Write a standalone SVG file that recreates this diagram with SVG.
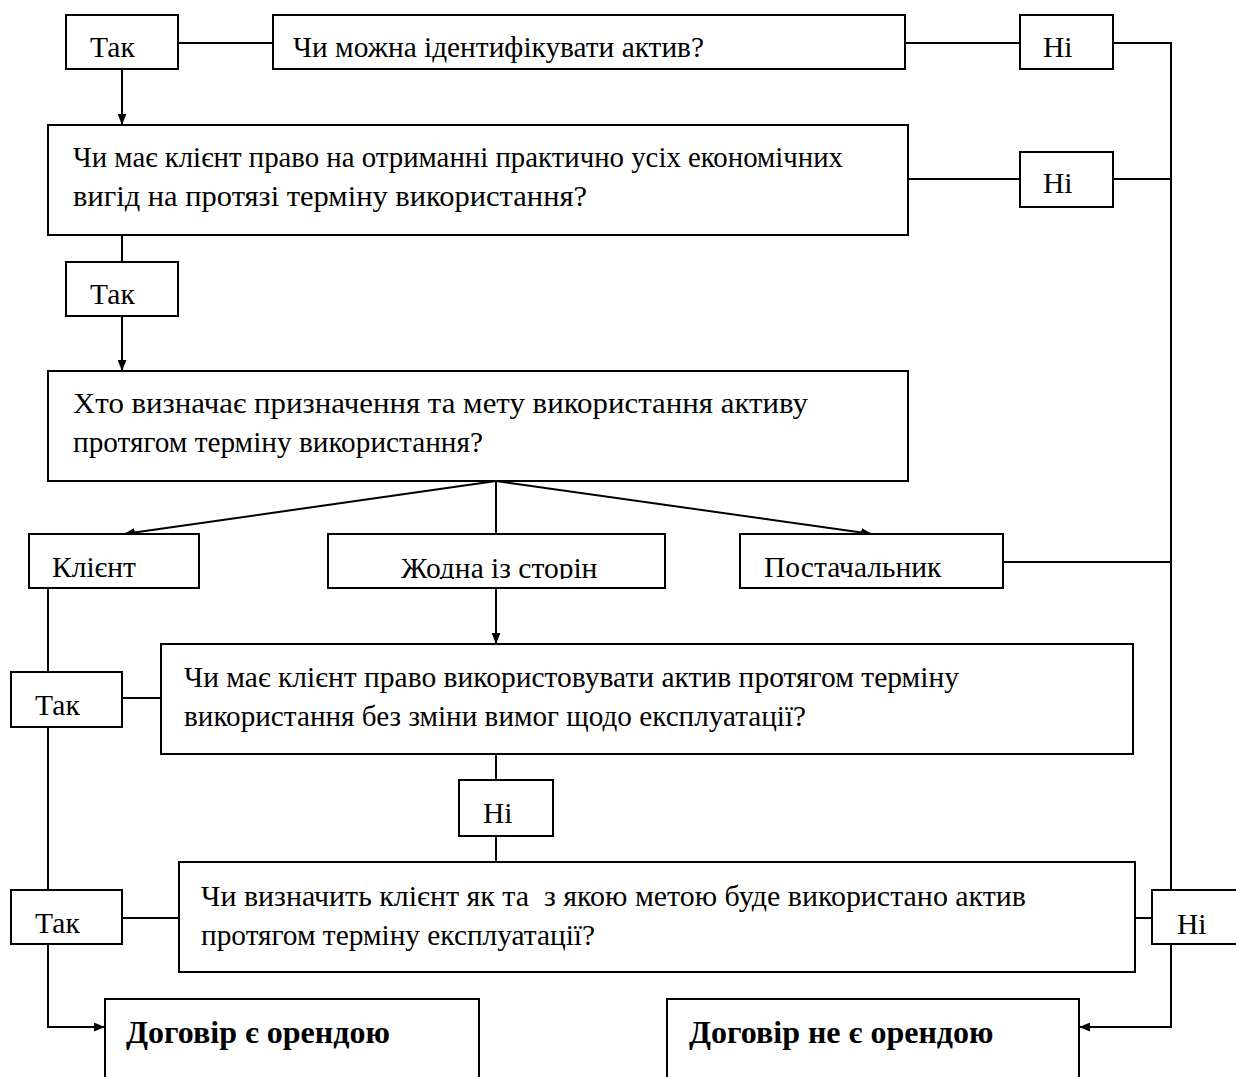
<svg xmlns="http://www.w3.org/2000/svg" width="1236" height="1077" viewBox="0 0 1236 1077">
<style>
  .box { fill: #ffffff; stroke: #000000; stroke-width: 2; }
  .ln { fill: none; stroke: #000000; stroke-width: 2; }
  .arr { fill: none; stroke: #000000; stroke-width: 2; marker-end: url(#ah); }
  .t { font-family: "Liberation Serif", "Times New Roman", serif; font-size: 29.5px; fill: #000000; }
  .q { font-family: "Liberation Serif", "Times New Roman", serif; font-size: 29px; fill: #000000; }
  .b { font-family: "Liberation Serif", "Times New Roman", serif; font-size: 32px; font-weight: bold; fill: #000000; }
</style>
<defs>
  <marker id="ah" viewBox="0 0 10 8" refX="10" refY="4" markerWidth="11" markerHeight="9" markerUnits="userSpaceOnUse" orient="auto">
    <path d="M0,0 L10,4 L0,8 Z" fill="#000000"/>
  </marker>
  <clipPath id="clipLbl"><rect x="0" y="530" width="1236" height="49"/></clipPath>
</defs>
<rect width="1236" height="1077" fill="#ffffff"/>

<g id="connectors">
  <line class="ln" x1="178" y1="43" x2="273" y2="43"/>
  <line class="ln" x1="905" y1="43" x2="1020" y2="43"/>
  <polyline class="ln" points="1113,43 1171,43 1171,890"/>
  <line class="arr" x1="122" y1="69" x2="122" y2="125"/>
  <line class="ln" x1="908" y1="179" x2="1020" y2="179"/>
  <line class="ln" x1="1113" y1="179" x2="1171" y2="179"/>
  <line class="ln" x1="122" y1="235" x2="122" y2="262"/>
  <line class="arr" x1="122" y1="316" x2="122" y2="371"/>
  <line class="arr" x1="496" y1="481" x2="124" y2="534"/>
  <line class="ln" x1="496" y1="481" x2="496" y2="534"/>
  <line class="arr" x1="496" y1="481" x2="872" y2="534"/>
  <line class="ln" x1="1003" y1="562" x2="1171" y2="562"/>
  <line class="arr" x1="496" y1="588" x2="496" y2="644"/>
  <line class="ln" x1="48" y1="588" x2="48" y2="672"/>
  <line class="ln" x1="122" y1="698" x2="161" y2="698"/>
  <line class="ln" x1="48" y1="727" x2="48" y2="890"/>
  <line class="ln" x1="496" y1="754" x2="496" y2="780"/>
  <line class="ln" x1="496" y1="836" x2="496" y2="862"/>
  <line class="ln" x1="122" y1="918" x2="179" y2="918"/>
  <line class="ln" x1="1135" y1="918" x2="1152" y2="918"/>
  <polyline class="arr" points="48,944 48,1027 105,1027"/>
  <polyline class="arr" points="1171,944 1171,1027 1079,1027"/>
</g>

<g id="tak1"><rect class="box" x="66" y="15" width="112" height="54"/><text class="t" x="90" y="57">Так</text></g>
<g id="q1"><rect class="box" x="273" y="15" width="632" height="54"/><text class="q" x="293" y="57" textLength="411" lengthAdjust="spacingAndGlyphs">Чи можна ідентифікувати актив?</text></g>
<g id="ni1"><rect class="box" x="1020" y="15" width="93" height="54"/><text class="t" x="1043" y="57">Ні</text></g>

<g id="q2"><rect class="box" x="48" y="125" width="860" height="110"/>
  <text class="q" x="73" y="167" textLength="770" lengthAdjust="spacingAndGlyphs">Чи має клієнт право на отриманні практично усіх економічних</text>
  <text class="q" x="73" y="206" textLength="514" lengthAdjust="spacingAndGlyphs">вигід на протязі терміну використання?</text></g>
<g id="ni2"><rect class="box" x="1020" y="152" width="93" height="55"/><text class="t" x="1043" y="193">Ні</text></g>

<g id="tak2"><rect class="box" x="66" y="262" width="112" height="54"/><text class="t" x="90" y="304">Так</text></g>

<g id="q3"><rect class="box" x="48" y="371" width="860" height="110"/>
  <text class="q" x="73" y="413" textLength="735" lengthAdjust="spacingAndGlyphs">Хто визначає призначення та мету використання активу</text>
  <text class="q" x="73" y="452" textLength="410" lengthAdjust="spacingAndGlyphs">протягом терміну використання?</text></g>

<g id="klient"><rect class="box" x="29" y="534" width="170" height="54"/><text class="t" x="52" y="577">Клієнт</text></g>
<g id="zhodna"><rect class="box" x="328" y="534" width="337" height="54"/><text class="t" x="401" y="578" clip-path="url(#clipLbl)">Жодна із сторін</text></g>
<g id="postach"><rect class="box" x="740" y="534" width="263" height="54"/><text class="t" x="764" y="577">Постачальник</text></g>

<g id="tak3"><rect class="box" x="11" y="672" width="111" height="55"/><text class="t" x="35" y="715">Так</text></g>
<g id="q4"><rect class="box" x="161" y="644" width="972" height="110"/>
  <text class="q" x="184" y="687" textLength="775" lengthAdjust="spacingAndGlyphs">Чи має клієнт право використовувати актив протягом терміну</text>
  <text class="q" x="184" y="726" textLength="622" lengthAdjust="spacingAndGlyphs">використання без зміни вимог щодо експлуатації?</text></g>

<g id="ni3"><rect class="box" x="459" y="780" width="94" height="56"/><text class="t" x="483" y="823">Ні</text></g>

<g id="tak4"><rect class="box" x="11" y="890" width="111" height="54"/><text class="t" x="35" y="933">Так</text></g>
<g id="q5"><rect class="box" x="179" y="862" width="956" height="110"/>
  <text class="q" x="201" y="906" xml:space="preserve" textLength="825" lengthAdjust="spacingAndGlyphs">Чи визначить клієнт як та  з якою метою буде використано актив</text>
  <text class="q" x="201" y="945" textLength="394" lengthAdjust="spacingAndGlyphs">протягом терміну експлуатації?</text></g>
<g id="ni4"><rect class="box" x="1152" y="890" width="90" height="54"/><text class="t" x="1177" y="934">Ні</text></g>

<g id="res1"><rect class="box" x="105" y="999" width="374" height="90"/><text class="b" x="126" y="1043">Договір є орендою</text></g>
<g id="res2"><rect class="box" x="667" y="999" width="412" height="90"/><text class="b" x="689" y="1043">Договір не є орендою</text></g>
</svg>
